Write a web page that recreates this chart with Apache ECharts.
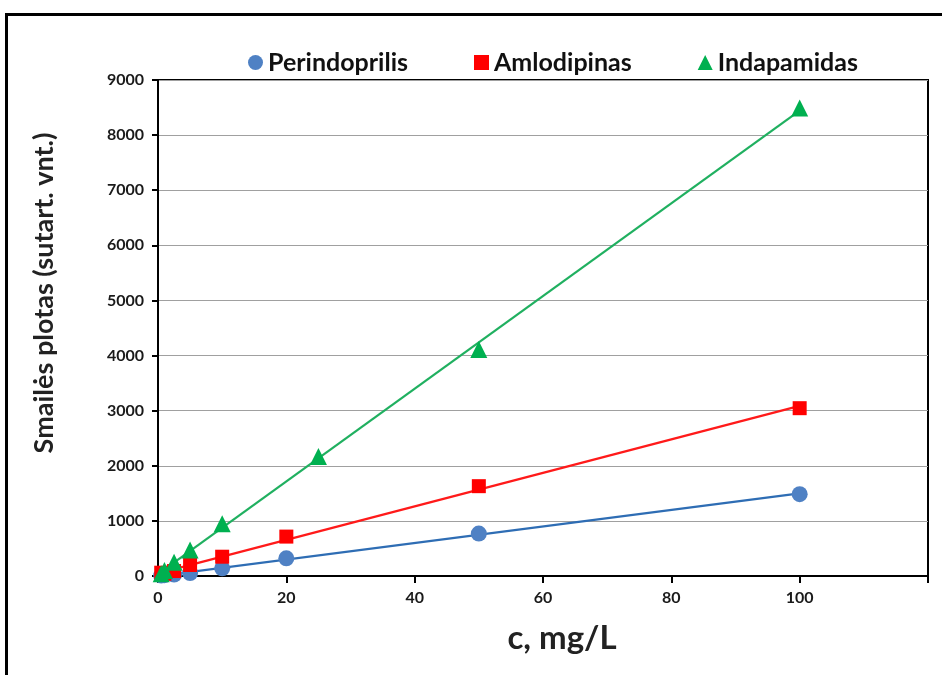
<!DOCTYPE html>
<html><head><meta charset="utf-8">
<script src="https://cdn.jsdelivr.net/npm/echarts@6/dist/echarts.min.js"></script>
<style>html,body{margin:0;padding:0;background:#fff}#c{width:942px;height:675px}</style>
</head><body><div id="c"></div>
<script>
const seriesNames = ['Perindoprilis', 'Amlodipinas', 'Indapamidas'];
const perX = [0.5, 1, 2.5, 5, 10, 20, 50, 100];
const perY = [8, 15, 25, 55, 140, 320, 770, 1485];
const amlX = [0.5, 1, 2.5, 5, 10, 20, 50, 100];
const amlY = [60, 40, 90, 200, 350, 715, 1630, 3045];
const indX = [0.5, 1, 2.5, 5, 10, 25, 50, 100];
const indY = [40, 100, 250, 470, 950, 2170, 4110, 8490];
const xTicks = [0, 20, 40, 60, 80, 100];
const yTicks = [0, 1000, 2000, 3000, 4000, 5000, 6000, 7000, 8000, 9000];

function pairs(xs, ys) { return xs.map((x, i) => [x, ys[i]]); }
function fit(xs, ys) {
  const n = xs.length;
  let sx = 0, sy = 0, sxx = 0, sxy = 0;
  for (let i = 0; i < n; i++) { sx += xs[i]; sy += ys[i]; sxx += xs[i]*xs[i]; sxy += xs[i]*ys[i]; }
  const b = (n*sxy - sx*sy) / (n*sxx - sx*sx);
  const a = (sy - b*sx) / n;
  const x0 = 0, x1 = Math.max(...xs);
  return [[x0, a + b*x0], [x1, a + b*x1]];
}
const FONT = 'Lato';
const markerCols = ['#4f81c4', '#ff0000', '#00b050'];
const lineCols = ['#2e6db4', '#ff1a1a', '#20b060'];
const xsAll = [perX, amlX, indX], ysAll = [perY, amlY, indY];
const syms = ['circle', 'rect', 'triangle'];
const sizes = [16, 14, 17];

const series = [];
for (let k = 0; k < 3; k++) {
  series.push({
    type: 'line', data: fit(xsAll[k], ysAll[k]), showSymbol: false, symbol: 'none',
    lineStyle: { color: lineCols[k], width: 2.2 }, z: 2, silent: true, legendHoverLink: false
  });
}
for (let k = 0; k < 3; k++) {
  series.push({
    name: seriesNames[k], type: 'scatter', data: pairs(xsAll[k], ysAll[k]),
    symbol: syms[k], symbolSize: sizes[k], itemStyle: { color: markerCols[k], opacity: 1 }, z: 3
  });
}

const chart = echarts.init(document.getElementById('c'), null, { renderer: 'canvas' });
chart.setOption({
  animation: false,
  backgroundColor: '#fff',
  graphic: [{ type: 'rect', shape: { x: 6.5, y: 14.5, width: 980, height: 700 },
    style: { fill: 'none', stroke: '#000', lineWidth: 3 }, z: 0 }],
  legend: {
    data: seriesNames.map((n, k) => ({ name: n, icon: syms[k] })),
    top: 45, left: 243, itemGap: 66, itemWidth: 15, itemHeight: 15,
    textStyle: { fontFamily: FONT, fontWeight: 'bold', fontSize: 25, color: '#111' }
  },
  grid: { left: 158, top: 80, right: 14, bottom: 99, show: true, borderColor: '#000', borderWidth: 2, backgroundColor: 'transparent' },
  xAxis: {
    type: 'value', min: 0, max: 120, interval: 20,
    name: 'c, mg/L', nameLocation: 'middle', nameGap: 46,
    nameTextStyle: { fontFamily: FONT, fontWeight: 'bold', fontSize: 33, color: '#222', padding: [0, 0, 0, 38] },
    axisLine: { show: true, lineStyle: { color: '#000', width: 2 } },
    axisTick: { show: true, length: 7, lineStyle: { color: '#000', width: 2 } },
    splitLine: { show: false },
    axisLabel: { margin: 14, fontFamily: FONT, fontWeight: 'bold', fontSize: 16, color: '#1a1a1a',
      formatter: v => xTicks.includes(v) ? String(v) : '' }
  },
  yAxis: {
    type: 'value', min: 0, max: 9000, interval: 1000,
    name: 'Smailės plotas (sutart. vnt.)', nameLocation: 'middle', nameGap: 100,
    nameTextStyle: { fontFamily: FONT, fontWeight: 'bold', fontSize: 27, color: '#222', padding: [0, 0, 0, 70] },
    axisLine: { show: true, lineStyle: { color: '#000', width: 2 } },
    axisTick: { show: true, length: 6, lineStyle: { color: '#000', width: 2 } },
    splitLine: { show: true, lineStyle: { color: '#a0a0a0', width: 1.2 } },
    axisLabel: { margin: 14, fontFamily: FONT, fontWeight: 'bold', fontSize: 16, color: '#1a1a1a',
      formatter: v => yTicks.includes(v) ? String(v) : '' }
  },
  series
});
</script></body></html>
